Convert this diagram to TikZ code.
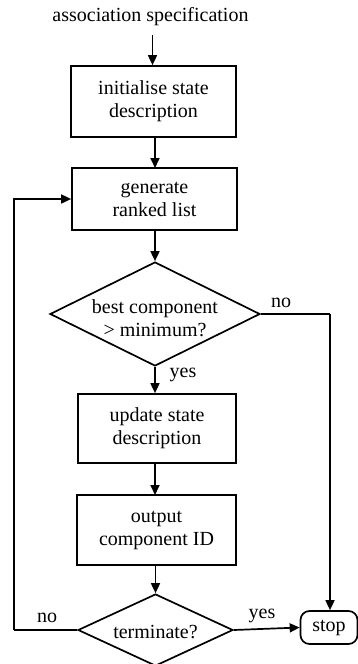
\documentclass[tikz,border=0pt]{standalone}
\usepackage{fontspec}
\setmainfont{Liberation Serif}
\usetikzlibrary{shapes.geometric,arrows.meta}
\begin{document}
\begin{tikzpicture}[x=1pt,y=-1pt,
  every node/.style={font=\fontsize{20}{23}\selectfont},
  box/.style={draw,line width=1.7pt,align=center,inner sep=0pt},
  dia/.style={draw,diamond,line width=1.7pt,inner sep=0pt,align=center},
  term/.style={draw,rounded corners=9pt,line width=1.7pt,inner sep=0pt},
  lbl/.style={inner sep=0pt},
  arr/.style={line width=1.7pt,-{Triangle[length=10pt,width=9pt]}},
  ln/.style={line width=1.7pt}]
\useasboundingbox (0,0) rectangle (358,664);
\node[lbl] (spec) at (150.5,17) {association specification};
\node[box,minimum width=165pt,minimum height=71pt] (b1) at (153.5,101.5) {initialise state\\description};
\node[box,minimum width=165pt,minimum height=62pt] (b2) at (154.5,199) {generate\\ranked list};
\node[dia,minimum width=210pt,minimum height=104pt,
  label={[align=center,yshift=-4pt]center:best component\\> minimum?}] (d1) at (155,314) {};
\node[box,minimum width=158pt,minimum height=69pt] (b3) at (157,428.5) {update state\\description};
\node[box,minimum width=159pt,minimum height=70pt] (b4) at (156.5,530) {output\\component ID};
\node[dia,minimum width=155pt,minimum height=72pt,
  label={[yshift=-2pt]center:terminate?}] (d2) at (155.5,630) {};
\node[term,minimum width=57pt,minimum height=33pt] (stop) at (329,627.5) {stop};
\coordinate (cno) at (330,314);
\coordinate (cloop) at (14,630);
\coordinate (cin) at (152.5,35);
\draw[arr] (cin) -- (cin |- b1.north);
\draw[arr] (b1.south -| 155,0) -- (155,168);
\draw[arr] (b2.south -| 155,0) -- (d1.north);
\draw[arr] (d1.south) -- (d1.south |- b3.north);
\draw[arr] (b3.south -| 155,0) -- (155,495);
\draw[arr] (b4.south -| 155.5,0) -- (d2.north);
\draw[ln] (d1.east) -- (cno);
\draw[arr] (cno) -- (cno |- stop.north);
\draw[arr] (d2.east) -- (stop.west);
\draw[ln] (d2.west) -- (cloop);
\draw[arr] (cloop) |- (b2.west);
\node[lbl] (no1) at (281,303) {no};
\node[lbl] (yes1) at (183,375) {yes};
\node[lbl] (no2) at (47,618) {no};
\node[lbl] (yes2) at (262,616) {yes};
\end{tikzpicture}
\end{document}
